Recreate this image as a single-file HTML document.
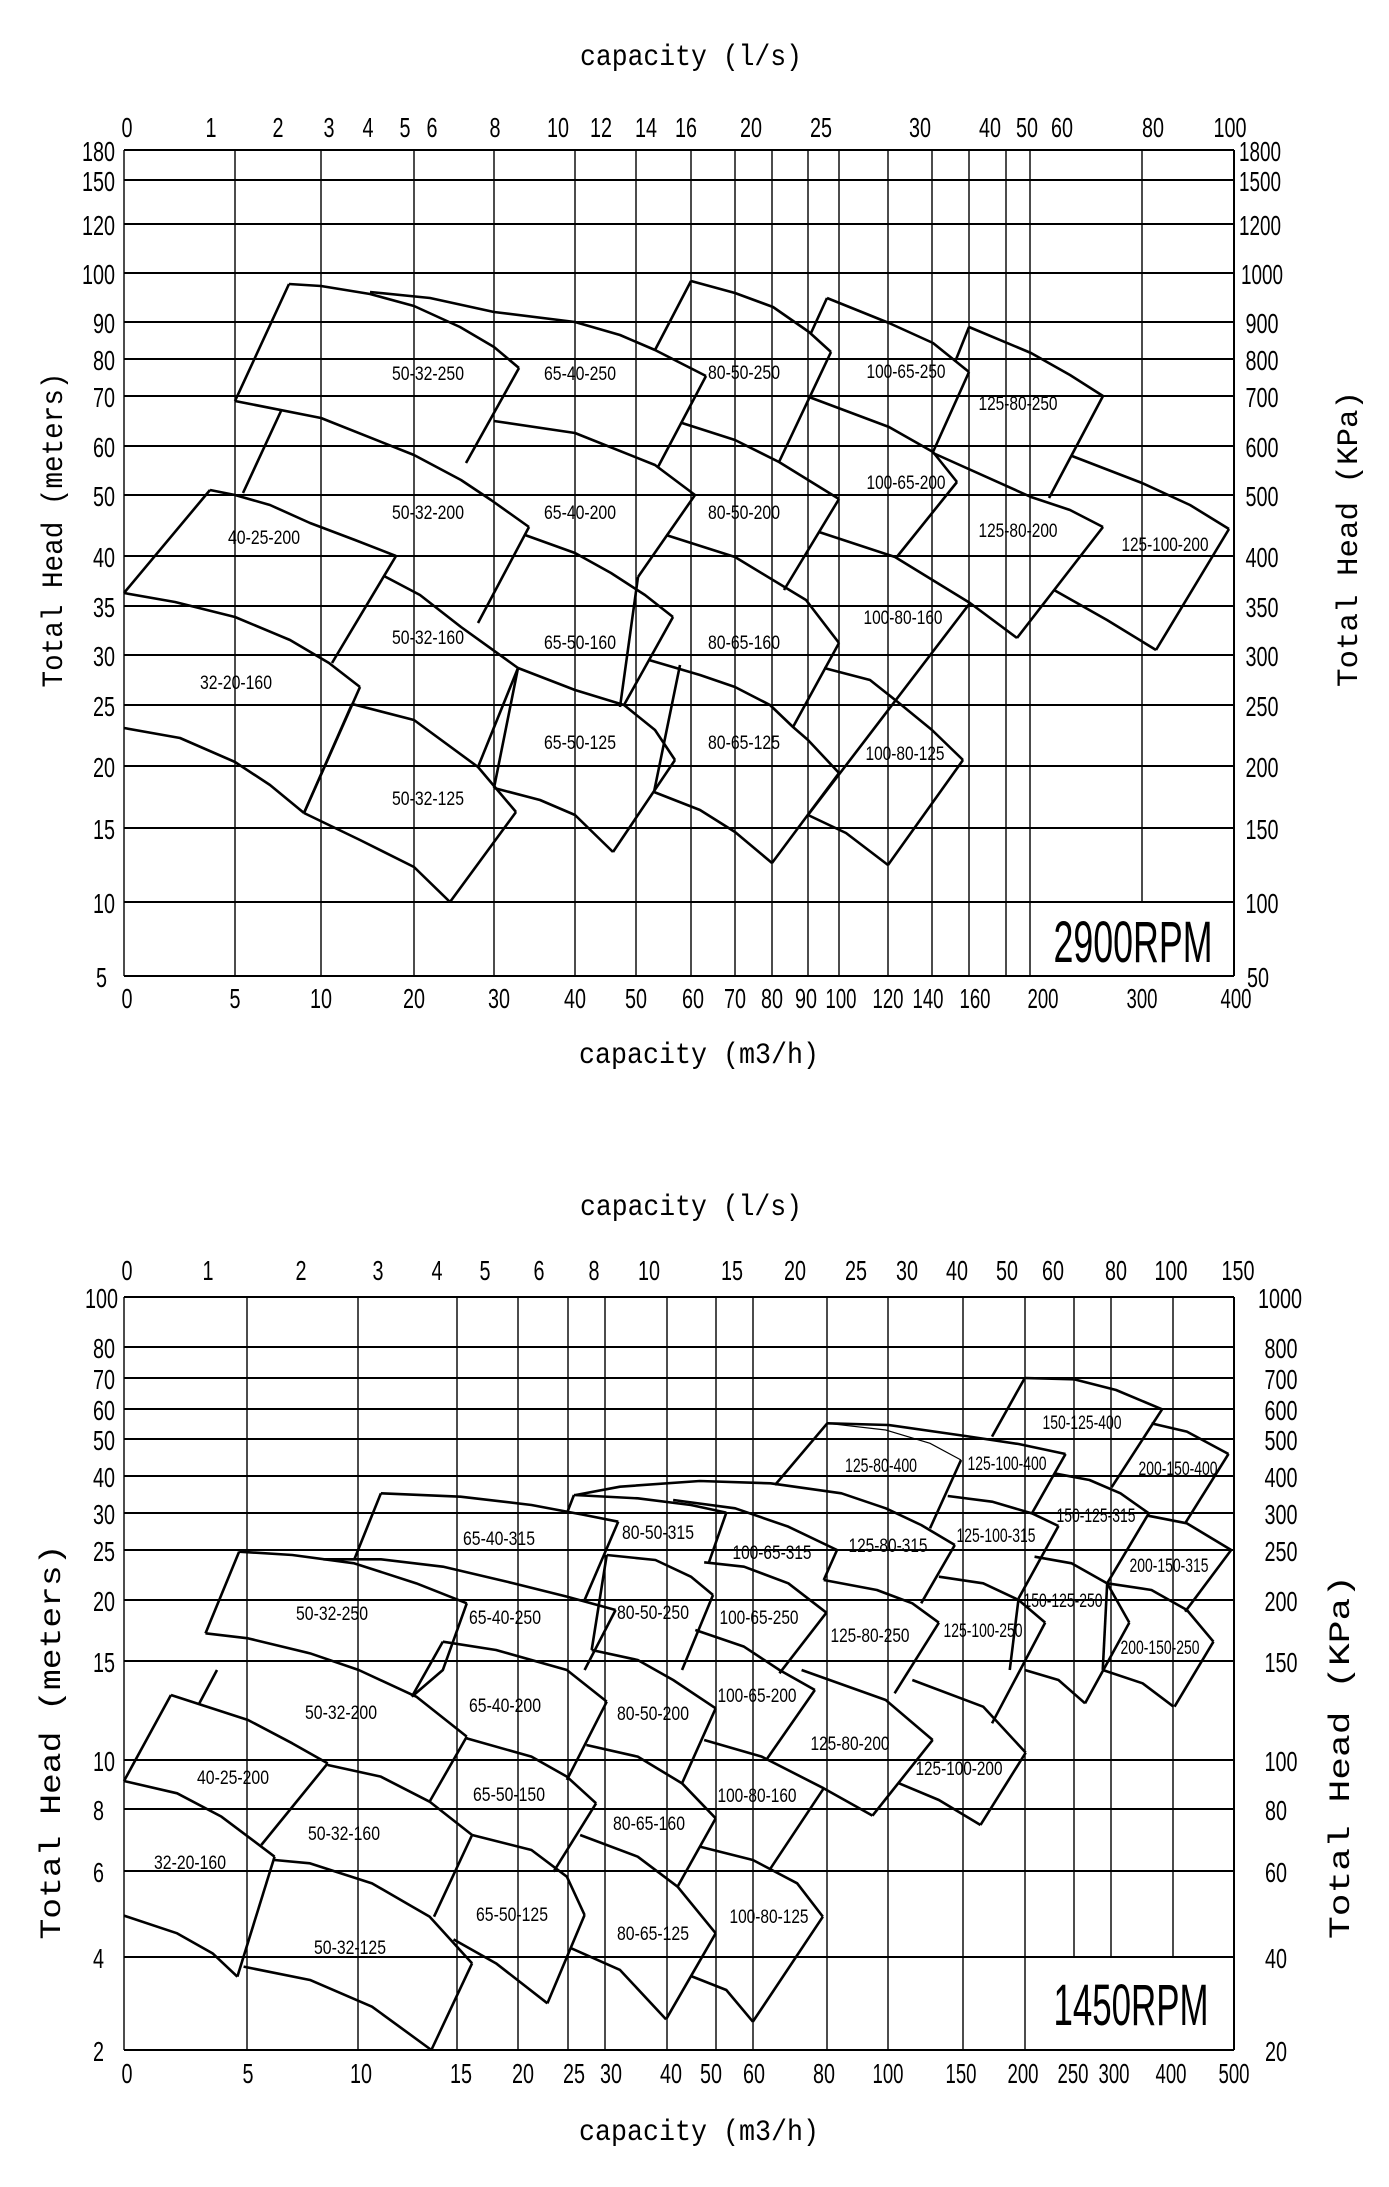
<!DOCTYPE html>
<html><head><meta charset="utf-8"><style>
html,body{margin:0;padding:0;background:#fff;}
svg{display:block;}
text{font-family:"Liberation Sans",sans-serif;fill:#000;}
.tk{font-size:28px;}
.lb{font-size:19px;}
.ti{font-family:"Liberation Mono",monospace;font-size:30px;}
.g{stroke:#000;fill:none;}
.c{stroke:#000;fill:none;stroke-width:2.6;stroke-linejoin:round;vector-effect:non-scaling-stroke;}
.th{stroke:#000;fill:none;stroke-width:1.2;vector-effect:non-scaling-stroke;}
</style></head><body>
<svg width="1389" height="2187" viewBox="0 0 1389 2187" xmlns="http://www.w3.org/2000/svg">
<rect width="1389" height="2187" fill="#fff"/>

<!-- ================= TOP CHART ================= -->
<g class="g" stroke-width="2">
<line x1="124" y1="150" x2="1234" y2="150"/><line x1="124" y1="180" x2="1234" y2="180"/><line x1="124" y1="224" x2="1234" y2="224"/><line x1="124" y1="273" x2="1234" y2="273"/><line x1="124" y1="322" x2="1234" y2="322"/><line x1="124" y1="359" x2="1234" y2="359"/><line x1="124" y1="396" x2="1234" y2="396"/><line x1="124" y1="446" x2="1234" y2="446"/><line x1="124" y1="495" x2="1234" y2="495"/><line x1="124" y1="556" x2="1234" y2="556"/><line x1="124" y1="606" x2="1234" y2="606"/><line x1="124" y1="655" x2="1234" y2="655"/><line x1="124" y1="705" x2="1234" y2="705"/><line x1="124" y1="766" x2="1234" y2="766"/><line x1="124" y1="828" x2="1234" y2="828"/><line x1="124" y1="902" x2="1234" y2="902"/><line x1="124" y1="976" x2="1234" y2="976"/>
</g>
<g class="g" stroke-width="1.4">
<line x1="124" y1="150" x2="124" y2="976"/><line x1="235" y1="150" x2="235" y2="976"/><line x1="321" y1="150" x2="321" y2="976"/><line x1="414" y1="150" x2="414" y2="976"/><line x1="494" y1="150" x2="494" y2="976"/><line x1="575" y1="150" x2="575" y2="976"/><line x1="636" y1="150" x2="636" y2="976"/><line x1="691" y1="150" x2="691" y2="976"/><line x1="735" y1="150" x2="735" y2="976"/><line x1="772" y1="150" x2="772" y2="976"/><line x1="808" y1="150" x2="808" y2="976"/><line x1="839" y1="150" x2="839" y2="976"/><line x1="888" y1="150" x2="888" y2="976"/><line x1="932" y1="150" x2="932" y2="976"/><line x1="969" y1="150" x2="969" y2="976"/><line x1="1006" y1="150" x2="1006" y2="976"/><line x1="1030" y1="150" x2="1030" y2="976"/><line x1="1142" y1="150" x2="1142" y2="902"/><line x1="1234" y1="150" x2="1234" y2="976" stroke-width="2"/>
</g>
<g>
<polyline class="c" points="235,401 289,284"/>
<polyline class="c" points="289,284 321,286 370,294 414,306 460,327 494,347 519,368"/>
<polyline class="c" points="519,368 466,463"/>
<polyline class="c" points="370,292 430,298 494,312 575,322 620,335 655,350 706,376"/>
<polyline class="c" points="706,376 658,467"/>
<polyline class="c" points="235,401 321,418 414,455 461,480 491,500 529,527"/>
<polyline class="c" points="281,411 243,493"/>
<polyline class="c" points="529,527 478,623"/>
<polyline class="c" points="494,421 575,433 655,465 695,495"/>
<polyline class="c" points="695,495 638,577"/>
<polyline class="c" points="525,535 575,553 611,573 645,595 673,617"/>
<polyline class="c" points="673,617 624,705"/>
<polyline class="c" points="518,668 575,690 624,705 655,730 675,760"/>
<polyline class="c" points="518,668 494,788"/>
<polyline class="c" points="675,760 613,852"/>
<polyline class="c" points="494,788 540,800 575,815 613,852"/>
<polyline class="c" points="304,813 352,704"/>
<polyline class="c" points="352,704 414,720 478,767 516,812"/>
<polyline class="c" points="516,812 450,902"/>
<polyline class="c" points="304,813 360,840 414,867 450,902"/>
<polyline class="c" points="124,593 175,602 235,617 290,640 329,663 360,687"/>
<polyline class="c" points="360,687 304,813"/>
<polyline class="c" points="124,728 180,738 235,762 270,785 304,813"/>
<polyline class="c" points="124,593 210,490"/>
<polyline class="c" points="210,490 235,495 270,505 310,523 355,540 396,556"/>
<polyline class="c" points="396,556 332,663"/>
<polyline class="c" points="384,576 420,595 461,627 518,668"/>
<polyline class="c" points="518,668 478,767"/>
<polyline class="c" points="655,350 691,281"/>
<polyline class="c" points="691,281 735,293 773,307 809,332 831,352"/>
<polyline class="c" points="831,352 779,462"/>
<polyline class="c" points="682,423 735,440 779,462 839,499"/>
<polyline class="c" points="839,499 784,590"/>
<polyline class="c" points="666,535 735,557 806,600 839,643"/>
<polyline class="c" points="839,643 793,727"/>
<polyline class="c" points="638,577 620,707"/>
<polyline class="c" points="649,660 700,675 735,687 770,705 793,727 808,740 839,773"/>
<polyline class="c" points="839,773 772,863"/>
<polyline class="c" points="654,792 700,810 735,832 772,863"/>
<polyline class="c" points="654,792 680,665"/>
<polyline class="c" points="811,333 827,298"/>
<polyline class="c" points="827,298 889,323 933,343 969,372"/>
<polyline class="c" points="969,372 933,452"/>
<polyline class="c" points="809,397 889,427 933,452 957,482"/>
<polyline class="c" points="957,482 896,558"/>
<polyline class="c" points="819,532 895,557 970,603 1017,638"/>
<polyline class="c" points="970,603 808,815"/>
<polyline class="c" points="824,668 870,680 899,703 932,730 963,760"/>
<polyline class="c" points="963,760 888,865"/>
<polyline class="c" points="808,815 846,833 888,865"/>
<polyline class="c" points="955,362 969,327"/>
<polyline class="c" points="969,327 1031,353 1070,375 1103,396"/>
<polyline class="c" points="1103,396 1049,498"/>
<polyline class="c" points="933,453 1031,497 1070,510 1103,527"/>
<polyline class="c" points="1103,527 1017,638"/>
<polyline class="c" points="1072,456 1142,483 1190,505 1229,529"/>
<polyline class="c" points="1229,529 1156,650"/>
<polyline class="c" points="1054,590 1107,620 1156,650"/>
</g>
<!-- top chart labels -->
<g class="lb" text-anchor="middle">
<text x="428" y="380" textLength="72" lengthAdjust="spacingAndGlyphs">50-32-250</text>
<text x="580" y="380" textLength="72" lengthAdjust="spacingAndGlyphs">65-40-250</text>
<text x="744" y="379" textLength="72" lengthAdjust="spacingAndGlyphs">80-50-250</text>
<text x="906" y="378" textLength="79" lengthAdjust="spacingAndGlyphs">100-65-250</text>
<text x="1018" y="410" textLength="79" lengthAdjust="spacingAndGlyphs">125-80-250</text>
<text x="906" y="489" textLength="79" lengthAdjust="spacingAndGlyphs">100-65-200</text>
<text x="744" y="519" textLength="72" lengthAdjust="spacingAndGlyphs">80-50-200</text>
<text x="1018" y="537" textLength="79" lengthAdjust="spacingAndGlyphs">125-80-200</text>
<text x="1165" y="551" textLength="87" lengthAdjust="spacingAndGlyphs">125-100-200</text>
<text x="428" y="519" textLength="72" lengthAdjust="spacingAndGlyphs">50-32-200</text>
<text x="580" y="519" textLength="72" lengthAdjust="spacingAndGlyphs">65-40-200</text>
<text x="264" y="544" textLength="72" lengthAdjust="spacingAndGlyphs">40-25-200</text>
<text x="903" y="624" textLength="79" lengthAdjust="spacingAndGlyphs">100-80-160</text>
<text x="428" y="644" textLength="72" lengthAdjust="spacingAndGlyphs">50-32-160</text>
<text x="580" y="649" textLength="72" lengthAdjust="spacingAndGlyphs">65-50-160</text>
<text x="744" y="649" textLength="72" lengthAdjust="spacingAndGlyphs">80-65-160</text>
<text x="236" y="689" textLength="72" lengthAdjust="spacingAndGlyphs">32-20-160</text>
<text x="580" y="749" textLength="72" lengthAdjust="spacingAndGlyphs">65-50-125</text>
<text x="744" y="749" textLength="72" lengthAdjust="spacingAndGlyphs">80-65-125</text>
<text x="905" y="760" textLength="79" lengthAdjust="spacingAndGlyphs">100-80-125</text>
<text x="428" y="805" textLength="72" lengthAdjust="spacingAndGlyphs">50-32-125</text>
</g>
<text x="1133" y="962" font-size="58" textLength="159" lengthAdjust="spacingAndGlyphs" text-anchor="middle">2900RPM</text>

<!-- top chart ticks -->
<g class="tk" text-anchor="middle">
<text x="127" y="137" textLength="11" lengthAdjust="spacingAndGlyphs">0</text><text x="211" y="137" textLength="11" lengthAdjust="spacingAndGlyphs">1</text><text x="278" y="137" textLength="11" lengthAdjust="spacingAndGlyphs">2</text><text x="329" y="137" textLength="11" lengthAdjust="spacingAndGlyphs">3</text><text x="368" y="137" textLength="11" lengthAdjust="spacingAndGlyphs">4</text><text x="405" y="137" textLength="11" lengthAdjust="spacingAndGlyphs">5</text><text x="432" y="137" textLength="11" lengthAdjust="spacingAndGlyphs">6</text><text x="495" y="137" textLength="11" lengthAdjust="spacingAndGlyphs">8</text><text x="558" y="137" textLength="22" lengthAdjust="spacingAndGlyphs">10</text><text x="601" y="137" textLength="22" lengthAdjust="spacingAndGlyphs">12</text><text x="646" y="137" textLength="22" lengthAdjust="spacingAndGlyphs">14</text><text x="686" y="137" textLength="22" lengthAdjust="spacingAndGlyphs">16</text><text x="751" y="137" textLength="22" lengthAdjust="spacingAndGlyphs">20</text><text x="821" y="137" textLength="22" lengthAdjust="spacingAndGlyphs">25</text><text x="920" y="137" textLength="22" lengthAdjust="spacingAndGlyphs">30</text><text x="990" y="137" textLength="22" lengthAdjust="spacingAndGlyphs">40</text><text x="1027" y="137" textLength="22" lengthAdjust="spacingAndGlyphs">50</text><text x="1062" y="137" textLength="22" lengthAdjust="spacingAndGlyphs">60</text><text x="1153" y="137" textLength="22" lengthAdjust="spacingAndGlyphs">80</text><text x="1230" y="137" textLength="33" lengthAdjust="spacingAndGlyphs">100</text>
<text x="127" y="1008" textLength="11" lengthAdjust="spacingAndGlyphs">0</text><text x="235" y="1008" textLength="11" lengthAdjust="spacingAndGlyphs">5</text><text x="321" y="1008" textLength="22" lengthAdjust="spacingAndGlyphs">10</text><text x="414" y="1008" textLength="22" lengthAdjust="spacingAndGlyphs">20</text><text x="499" y="1008" textLength="22" lengthAdjust="spacingAndGlyphs">30</text><text x="575" y="1008" textLength="22" lengthAdjust="spacingAndGlyphs">40</text><text x="636" y="1008" textLength="22" lengthAdjust="spacingAndGlyphs">50</text><text x="693" y="1008" textLength="22" lengthAdjust="spacingAndGlyphs">60</text><text x="735" y="1008" textLength="22" lengthAdjust="spacingAndGlyphs">70</text><text x="772" y="1008" textLength="22" lengthAdjust="spacingAndGlyphs">80</text><text x="806" y="1008" textLength="22" lengthAdjust="spacingAndGlyphs">90</text><text x="841" y="1008" textLength="31" lengthAdjust="spacingAndGlyphs">100</text><text x="888" y="1008" textLength="31" lengthAdjust="spacingAndGlyphs">120</text><text x="928" y="1008" textLength="31" lengthAdjust="spacingAndGlyphs">140</text><text x="975" y="1008" textLength="31" lengthAdjust="spacingAndGlyphs">160</text><text x="1043" y="1008" textLength="31" lengthAdjust="spacingAndGlyphs">200</text><text x="1142" y="1008" textLength="31" lengthAdjust="spacingAndGlyphs">300</text><text x="1236" y="1008" textLength="31" lengthAdjust="spacingAndGlyphs">400</text>
</g>
<g class="tk" text-anchor="end">
<text x="115" y="161" textLength="33" lengthAdjust="spacingAndGlyphs">180</text><text x="115" y="191" textLength="33" lengthAdjust="spacingAndGlyphs">150</text><text x="115" y="235" textLength="33" lengthAdjust="spacingAndGlyphs">120</text><text x="115" y="284" textLength="33" lengthAdjust="spacingAndGlyphs">100</text><text x="115" y="333" textLength="22" lengthAdjust="spacingAndGlyphs">90</text><text x="115" y="370" textLength="22" lengthAdjust="spacingAndGlyphs">80</text><text x="115" y="407" textLength="22" lengthAdjust="spacingAndGlyphs">70</text><text x="115" y="457" textLength="22" lengthAdjust="spacingAndGlyphs">60</text><text x="115" y="506" textLength="22" lengthAdjust="spacingAndGlyphs">50</text><text x="115" y="567" textLength="22" lengthAdjust="spacingAndGlyphs">40</text><text x="115" y="617" textLength="22" lengthAdjust="spacingAndGlyphs">35</text><text x="115" y="666" textLength="22" lengthAdjust="spacingAndGlyphs">30</text><text x="115" y="716" textLength="22" lengthAdjust="spacingAndGlyphs">25</text><text x="115" y="777" textLength="22" lengthAdjust="spacingAndGlyphs">20</text><text x="115" y="839" textLength="22" lengthAdjust="spacingAndGlyphs">15</text><text x="115" y="913" textLength="22" lengthAdjust="spacingAndGlyphs">10</text><text x="107" y="987" textLength="11" lengthAdjust="spacingAndGlyphs">5</text>
</g>
<g class="tk" text-anchor="middle">
<text x="1260" y="161" textLength="42" lengthAdjust="spacingAndGlyphs">1800</text><text x="1260" y="191" textLength="42" lengthAdjust="spacingAndGlyphs">1500</text><text x="1260" y="235" textLength="42" lengthAdjust="spacingAndGlyphs">1200</text><text x="1262" y="284" textLength="42" lengthAdjust="spacingAndGlyphs">1000</text><text x="1262" y="333" textLength="33" lengthAdjust="spacingAndGlyphs">900</text><text x="1262" y="370" textLength="33" lengthAdjust="spacingAndGlyphs">800</text><text x="1262" y="407" textLength="33" lengthAdjust="spacingAndGlyphs">700</text><text x="1262" y="457" textLength="33" lengthAdjust="spacingAndGlyphs">600</text><text x="1262" y="506" textLength="33" lengthAdjust="spacingAndGlyphs">500</text><text x="1262" y="567" textLength="33" lengthAdjust="spacingAndGlyphs">400</text><text x="1262" y="617" textLength="33" lengthAdjust="spacingAndGlyphs">350</text><text x="1262" y="666" textLength="33" lengthAdjust="spacingAndGlyphs">300</text><text x="1262" y="716" textLength="33" lengthAdjust="spacingAndGlyphs">250</text><text x="1262" y="777" textLength="33" lengthAdjust="spacingAndGlyphs">200</text><text x="1262" y="839" textLength="33" lengthAdjust="spacingAndGlyphs">150</text><text x="1262" y="913" textLength="33" lengthAdjust="spacingAndGlyphs">100</text><text x="1258" y="987" textLength="22" lengthAdjust="spacingAndGlyphs">50</text>
</g>
<text class="ti" x="691" y="65" text-anchor="middle" textLength="222" lengthAdjust="spacingAndGlyphs">capacity (l/s)</text>
<text class="ti" x="699" y="1063" text-anchor="middle" textLength="240" lengthAdjust="spacingAndGlyphs">capacity (m3/h)</text>
<text class="ti" font-size="38" transform="translate(62,530) rotate(-90)" text-anchor="middle" textLength="315" lengthAdjust="spacingAndGlyphs">Total Head (meters)</text>
<text class="ti" font-size="38" transform="translate(1357,539) rotate(-90)" text-anchor="middle" textLength="296" lengthAdjust="spacingAndGlyphs">Total Head (KPa)</text>

<!-- ================= BOTTOM CHART ================= -->
<g class="g" stroke-width="2">
<line x1="124" y1="1297" x2="1234" y2="1297"/><line x1="124" y1="1347" x2="1234" y2="1347"/><line x1="124" y1="1378" x2="1234" y2="1378"/><line x1="124" y1="1409" x2="1234" y2="1409"/><line x1="124" y1="1439" x2="1234" y2="1439"/><line x1="124" y1="1476" x2="1234" y2="1476"/><line x1="124" y1="1513" x2="1234" y2="1513"/><line x1="124" y1="1550" x2="1234" y2="1550"/><line x1="124" y1="1600" x2="1234" y2="1600"/><line x1="124" y1="1661" x2="1234" y2="1661"/><line x1="124" y1="1760" x2="1234" y2="1760"/><line x1="124" y1="1809" x2="1234" y2="1809"/><line x1="124" y1="1871" x2="1234" y2="1871"/><line x1="124" y1="1957" x2="1234" y2="1957"/><line x1="124" y1="2050" x2="1234" y2="2050"/>
</g>
<g class="g" stroke-width="1.4">
<line x1="124" y1="1297" x2="124" y2="2050"/><line x1="247" y1="1297" x2="247" y2="2050"/><line x1="358" y1="1297" x2="358" y2="2050"/><line x1="457" y1="1297" x2="457" y2="2050"/><line x1="518" y1="1297" x2="518" y2="2050"/><line x1="568" y1="1297" x2="568" y2="2050"/><line x1="605" y1="1297" x2="605" y2="2050"/><line x1="667" y1="1297" x2="667" y2="2050"/><line x1="716" y1="1297" x2="716" y2="2050"/><line x1="753" y1="1297" x2="753" y2="2050"/><line x1="827" y1="1297" x2="827" y2="2050"/><line x1="888" y1="1297" x2="888" y2="2050"/><line x1="963" y1="1297" x2="963" y2="2050"/><line x1="1025" y1="1297" x2="1025" y2="2050"/><line x1="1074" y1="1297" x2="1074" y2="1957"/><line x1="1111" y1="1297" x2="1111" y2="1957"/><line x1="1173" y1="1297" x2="1173" y2="1957"/><line x1="1234" y1="1297" x2="1234" y2="2050" stroke-width="2"/>
</g>
<g transform="matrix(0.88574,0,0,0.33333,0,1150)">
<polyline class="c" points="1120,860 1157,684"/>
<polyline class="c" points="1157,684 1213,688 1260,720 1312,778"/>
<polyline class="c" points="1312,778 1255,1012"/>
<polyline class="c" points="1300,820 1340,845 1387,912"/>
<polyline class="c" points="1387,912 1338,1120"/>
<polyline class="c" points="875,1005 934,820"/>
<polyline class="c" points="934,820 1003,825 1090,858 1150,882 1203,912"/>
<polyline class="th" points="934,820 1000,840 1050,880 1085,930"/>
<polyline class="c" points="1085,930 1050,1135"/>
<polyline class="c" points="1203,912 1165,1090"/>
<polyline class="c" points="1190,970 1230,990 1265,1030 1297,1090"/>
<polyline class="c" points="1297,1090 1250,1300"/>
<polyline class="c" points="1070,1038 1120,1055 1165,1090 1195,1128"/>
<polyline class="c" points="1195,1128 1150,1345"/>
<polyline class="c" points="1296,1097 1340,1120 1390,1200"/>
<polyline class="c" points="1390,1200 1338,1385"/>
<polyline class="c" points="650,1035 700,1010 790,993 870,1000 950,1030 1000,1075 1040,1125 1078,1185"/>
<polyline class="c" points="1078,1185 1040,1360"/>
<polyline class="c" points="648,1035 720,1045 780,1065 820,1088"/>
<polyline class="c" points="820,1088 800,1240"/>
<polyline class="c" points="760,1050 830,1075 890,1130 945,1200"/>
<polyline class="c" points="945,1200 930,1290"/>
<polyline class="c" points="648,1035 640,1090"/>
<polyline class="c" points="400,1228 430,1030"/>
<polyline class="c" points="430,1030 520,1040 600,1065 660,1095 698,1115"/>
<polyline class="c" points="698,1115 660,1350"/>
<polyline class="c" points="232,1450 270,1205"/>
<polyline class="c" points="270,1205 330,1215 400,1240 470,1300 527,1360"/>
<polyline class="c" points="527,1360 500,1560 465,1640"/>
<polyline class="c" points="365,1228 430,1228 500,1250 580,1300 640,1340 695,1380"/>
<polyline class="c" points="695,1380 660,1560"/>
<polyline class="c" points="685,1215 740,1230 780,1280 805,1335"/>
<polyline class="c" points="805,1335 770,1560"/>
<polyline class="c" points="685,1215 668,1500"/>
<polyline class="c" points="795,1237 840,1250 890,1300 933,1388"/>
<polyline class="c" points="933,1388 880,1570"/>
<polyline class="c" points="930,1290 990,1320 1030,1360 1060,1418"/>
<polyline class="c" points="1060,1418 1010,1630"/>
<polyline class="c" points="1060,1280 1110,1300 1150,1350 1180,1418"/>
<polyline class="c" points="1180,1418 1120,1720"/>
<polyline class="c" points="1168,1220 1210,1240 1250,1300 1275,1418"/>
<polyline class="c" points="1275,1418 1225,1660"/>
<polyline class="c" points="1250,1300 1300,1320 1340,1380 1370,1475"/>
<polyline class="c" points="1370,1475 1326,1670"/>
<polyline class="c" points="1157,1560 1195,1590 1225,1660"/>
<polyline class="c" points="1245,1560 1290,1600 1325,1670"/>
<polyline class="c" points="1150,1345 1140,1560"/>
<polyline class="c" points="1250,1300 1245,1560"/>
<polyline class="c" points="232,1450 280,1465 350,1510 405,1560 470,1640 527,1760"/>
<polyline class="c" points="527,1760 485,1955"/>
<polyline class="c" points="245,1560 225,1660"/>
<polyline class="c" points="140,1893 193,1635"/>
<polyline class="c" points="193,1635 280,1710 330,1780 370,1840"/>
<polyline class="c" points="370,1840 295,2085"/>
<polyline class="c" points="140,1893 200,1930 250,2000 310,2120"/>
<polyline class="c" points="310,2120 268,2480"/>
<polyline class="c" points="140,2297 200,2350 240,2410 268,2480"/>
<polyline class="c" points="370,1845 430,1880 485,1955 533,2055"/>
<polyline class="c" points="533,2055 490,2300"/>
<polyline class="c" points="310,2130 350,2140 420,2200 485,2300 533,2440"/>
<polyline class="c" points="533,2440 487,2700"/>
<polyline class="c" points="275,2450 350,2490 420,2570 487,2700"/>
<polyline class="c" points="500,1475 560,1500 640,1560 685,1655"/>
<polyline class="c" points="685,1655 640,1890"/>
<polyline class="c" points="500,1475 465,1640"/>
<polyline class="c" points="527,1765 600,1820 640,1880 673,1960"/>
<polyline class="c" points="673,1960 625,2165"/>
<polyline class="c" points="533,2055 600,2100 640,2180 660,2295"/>
<polyline class="c" points="660,2295 618,2560"/>
<polyline class="c" points="512,2368 560,2440 618,2560"/>
<polyline class="c" points="668,1500 720,1530 760,1590 808,1675"/>
<polyline class="c" points="808,1675 770,1900"/>
<polyline class="c" points="662,1785 720,1820 770,1900 808,2005"/>
<polyline class="c" points="808,2005 765,2210"/>
<polyline class="c" points="655,2055 720,2120 765,2210 808,2350"/>
<polyline class="c" points="808,2350 752,2608"/>
<polyline class="c" points="645,2395 700,2460 752,2608"/>
<polyline class="c" points="785,1440 840,1490 880,1560 920,1620"/>
<polyline class="c" points="920,1620 865,1830"/>
<polyline class="c" points="795,1770 860,1820 930,1915 985,1997"/>
<polyline class="c" points="930,1915 870,2155"/>
<polyline class="c" points="790,2090 850,2130 900,2200 929,2300"/>
<polyline class="c" points="929,2300 850,2615"/>
<polyline class="c" points="780,2478 820,2520 850,2615"/>
<polyline class="c" points="905,1560 1000,1650 1053,1770"/>
<polyline class="c" points="1053,1770 985,1997"/>
<polyline class="c" points="1030,1590 1110,1670 1158,1808"/>
<polyline class="c" points="1158,1808 1107,2025"/>
<polyline class="c" points="1015,1900 1060,1950 1107,2025"/>
</g>
<g class="lb" text-anchor="middle">
<text x="1082" y="1429" textLength="79" lengthAdjust="spacingAndGlyphs">150-125-400</text>
<text x="881" y="1472" textLength="72" lengthAdjust="spacingAndGlyphs">125-80-400</text>
<text x="1007" y="1470" textLength="79" lengthAdjust="spacingAndGlyphs">125-100-400</text>
<text x="1178" y="1475" textLength="79" lengthAdjust="spacingAndGlyphs">200-150-400</text>
<text x="499" y="1545" textLength="72" lengthAdjust="spacingAndGlyphs">65-40-315</text>
<text x="658" y="1539" textLength="72" lengthAdjust="spacingAndGlyphs">80-50-315</text>
<text x="772" y="1559" textLength="79" lengthAdjust="spacingAndGlyphs">100-65-315</text>
<text x="888" y="1552" textLength="79" lengthAdjust="spacingAndGlyphs">125-80-315</text>
<text x="996" y="1542" textLength="79" lengthAdjust="spacingAndGlyphs">125-100-315</text>
<text x="1096" y="1522" textLength="79" lengthAdjust="spacingAndGlyphs">150-125-315</text>
<text x="1169" y="1572" textLength="79" lengthAdjust="spacingAndGlyphs">200-150-315</text>
<text x="332" y="1620" textLength="72" lengthAdjust="spacingAndGlyphs">50-32-250</text>
<text x="505" y="1624" textLength="72" lengthAdjust="spacingAndGlyphs">65-40-250</text>
<text x="653" y="1619" textLength="72" lengthAdjust="spacingAndGlyphs">80-50-250</text>
<text x="759" y="1624" textLength="79" lengthAdjust="spacingAndGlyphs">100-65-250</text>
<text x="870" y="1642" textLength="79" lengthAdjust="spacingAndGlyphs">125-80-250</text>
<text x="983" y="1637" textLength="79" lengthAdjust="spacingAndGlyphs">125-100-250</text>
<text x="1063" y="1607" textLength="79" lengthAdjust="spacingAndGlyphs">150-125-250</text>
<text x="1160" y="1654" textLength="79" lengthAdjust="spacingAndGlyphs">200-150-250</text>
<text x="341" y="1719" textLength="72" lengthAdjust="spacingAndGlyphs">50-32-200</text>
<text x="505" y="1712" textLength="72" lengthAdjust="spacingAndGlyphs">65-40-200</text>
<text x="653" y="1720" textLength="72" lengthAdjust="spacingAndGlyphs">80-50-200</text>
<text x="757" y="1702" textLength="79" lengthAdjust="spacingAndGlyphs">100-65-200</text>
<text x="850" y="1750" textLength="79" lengthAdjust="spacingAndGlyphs">125-80-200</text>
<text x="959" y="1775" textLength="87" lengthAdjust="spacingAndGlyphs">125-100-200</text>
<text x="233" y="1784" textLength="72" lengthAdjust="spacingAndGlyphs">40-25-200</text>
<text x="509" y="1801" textLength="72" lengthAdjust="spacingAndGlyphs">65-50-150</text>
<text x="757" y="1802" textLength="79" lengthAdjust="spacingAndGlyphs">100-80-160</text>
<text x="649" y="1830" textLength="72" lengthAdjust="spacingAndGlyphs">80-65-160</text>
<text x="344" y="1840" textLength="72" lengthAdjust="spacingAndGlyphs">50-32-160</text>
<text x="190" y="1869" textLength="72" lengthAdjust="spacingAndGlyphs">32-20-160</text>
<text x="512" y="1921" textLength="72" lengthAdjust="spacingAndGlyphs">65-50-125</text>
<text x="769" y="1923" textLength="79" lengthAdjust="spacingAndGlyphs">100-80-125</text>
<text x="653" y="1940" textLength="72" lengthAdjust="spacingAndGlyphs">80-65-125</text>
<text x="350" y="1954" textLength="72" lengthAdjust="spacingAndGlyphs">50-32-125</text>
</g>
<text x="1131" y="2025" font-size="58" textLength="155" lengthAdjust="spacingAndGlyphs" text-anchor="middle">1450RPM</text>

<g class="tk" text-anchor="middle">
<text x="127" y="1280" textLength="11" lengthAdjust="spacingAndGlyphs">0</text><text x="208" y="1280" textLength="11" lengthAdjust="spacingAndGlyphs">1</text><text x="301" y="1280" textLength="11" lengthAdjust="spacingAndGlyphs">2</text><text x="378" y="1280" textLength="11" lengthAdjust="spacingAndGlyphs">3</text><text x="437" y="1280" textLength="11" lengthAdjust="spacingAndGlyphs">4</text><text x="485" y="1280" textLength="11" lengthAdjust="spacingAndGlyphs">5</text><text x="539" y="1280" textLength="11" lengthAdjust="spacingAndGlyphs">6</text><text x="594" y="1280" textLength="11" lengthAdjust="spacingAndGlyphs">8</text><text x="649" y="1280" textLength="22" lengthAdjust="spacingAndGlyphs">10</text><text x="732" y="1280" textLength="22" lengthAdjust="spacingAndGlyphs">15</text><text x="795" y="1280" textLength="22" lengthAdjust="spacingAndGlyphs">20</text><text x="856" y="1280" textLength="22" lengthAdjust="spacingAndGlyphs">25</text><text x="907" y="1280" textLength="22" lengthAdjust="spacingAndGlyphs">30</text><text x="957" y="1280" textLength="22" lengthAdjust="spacingAndGlyphs">40</text><text x="1007" y="1280" textLength="22" lengthAdjust="spacingAndGlyphs">50</text><text x="1053" y="1280" textLength="22" lengthAdjust="spacingAndGlyphs">60</text><text x="1116" y="1280" textLength="22" lengthAdjust="spacingAndGlyphs">80</text><text x="1171" y="1280" textLength="33" lengthAdjust="spacingAndGlyphs">100</text><text x="1238" y="1280" textLength="33" lengthAdjust="spacingAndGlyphs">150</text>
<text x="127" y="2083" textLength="11" lengthAdjust="spacingAndGlyphs">0</text><text x="248" y="2083" textLength="11" lengthAdjust="spacingAndGlyphs">5</text><text x="361" y="2083" textLength="22" lengthAdjust="spacingAndGlyphs">10</text><text x="461" y="2083" textLength="22" lengthAdjust="spacingAndGlyphs">15</text><text x="523" y="2083" textLength="22" lengthAdjust="spacingAndGlyphs">20</text><text x="574" y="2083" textLength="22" lengthAdjust="spacingAndGlyphs">25</text><text x="611" y="2083" textLength="22" lengthAdjust="spacingAndGlyphs">30</text><text x="671" y="2083" textLength="22" lengthAdjust="spacingAndGlyphs">40</text><text x="711" y="2083" textLength="22" lengthAdjust="spacingAndGlyphs">50</text><text x="754" y="2083" textLength="22" lengthAdjust="spacingAndGlyphs">60</text><text x="824" y="2083" textLength="22" lengthAdjust="spacingAndGlyphs">80</text><text x="888" y="2083" textLength="31" lengthAdjust="spacingAndGlyphs">100</text><text x="961" y="2083" textLength="31" lengthAdjust="spacingAndGlyphs">150</text><text x="1023" y="2083" textLength="31" lengthAdjust="spacingAndGlyphs">200</text><text x="1073" y="2083" textLength="31" lengthAdjust="spacingAndGlyphs">250</text><text x="1114" y="2083" textLength="31" lengthAdjust="spacingAndGlyphs">300</text><text x="1171" y="2083" textLength="31" lengthAdjust="spacingAndGlyphs">400</text><text x="1234" y="2083" textLength="31" lengthAdjust="spacingAndGlyphs">500</text>
</g>
<g class="tk" text-anchor="end">
<text x="118" y="1308" textLength="33" lengthAdjust="spacingAndGlyphs">100</text><text x="115" y="1358" textLength="22" lengthAdjust="spacingAndGlyphs">80</text><text x="115" y="1389" textLength="22" lengthAdjust="spacingAndGlyphs">70</text><text x="115" y="1420" textLength="22" lengthAdjust="spacingAndGlyphs">60</text><text x="115" y="1450" textLength="22" lengthAdjust="spacingAndGlyphs">50</text><text x="115" y="1487" textLength="22" lengthAdjust="spacingAndGlyphs">40</text><text x="115" y="1524" textLength="22" lengthAdjust="spacingAndGlyphs">30</text><text x="115" y="1561" textLength="22" lengthAdjust="spacingAndGlyphs">25</text><text x="115" y="1611" textLength="22" lengthAdjust="spacingAndGlyphs">20</text><text x="115" y="1672" textLength="22" lengthAdjust="spacingAndGlyphs">15</text><text x="115" y="1771" textLength="22" lengthAdjust="spacingAndGlyphs">10</text><text x="104" y="1820" textLength="11" lengthAdjust="spacingAndGlyphs">8</text><text x="104" y="1882" textLength="11" lengthAdjust="spacingAndGlyphs">6</text><text x="104" y="1968" textLength="11" lengthAdjust="spacingAndGlyphs">4</text><text x="104" y="2061" textLength="11" lengthAdjust="spacingAndGlyphs">2</text>
</g>
<g class="tk" text-anchor="middle">
<text x="1280" y="1308" textLength="44" lengthAdjust="spacingAndGlyphs">1000</text><text x="1281" y="1358" textLength="33" lengthAdjust="spacingAndGlyphs">800</text><text x="1281" y="1389" textLength="33" lengthAdjust="spacingAndGlyphs">700</text><text x="1281" y="1420" textLength="33" lengthAdjust="spacingAndGlyphs">600</text><text x="1281" y="1450" textLength="33" lengthAdjust="spacingAndGlyphs">500</text><text x="1281" y="1487" textLength="33" lengthAdjust="spacingAndGlyphs">400</text><text x="1281" y="1524" textLength="33" lengthAdjust="spacingAndGlyphs">300</text><text x="1281" y="1561" textLength="33" lengthAdjust="spacingAndGlyphs">250</text><text x="1281" y="1611" textLength="33" lengthAdjust="spacingAndGlyphs">200</text><text x="1281" y="1672" textLength="33" lengthAdjust="spacingAndGlyphs">150</text><text x="1281" y="1771" textLength="33" lengthAdjust="spacingAndGlyphs">100</text><text x="1276" y="1820" textLength="22" lengthAdjust="spacingAndGlyphs">80</text><text x="1276" y="1882" textLength="22" lengthAdjust="spacingAndGlyphs">60</text><text x="1276" y="1968" textLength="22" lengthAdjust="spacingAndGlyphs">40</text><text x="1276" y="2061" textLength="22" lengthAdjust="spacingAndGlyphs">20</text>
</g>
<text class="ti" x="691" y="1215" text-anchor="middle" textLength="222" lengthAdjust="spacingAndGlyphs">capacity (l/s)</text>
<text class="ti" x="699" y="2140" text-anchor="middle" textLength="240" lengthAdjust="spacingAndGlyphs">capacity (m3/h)</text>
<text class="ti" font-size="38" transform="translate(60,1742) rotate(-90)" text-anchor="middle" textLength="395" lengthAdjust="spacingAndGlyphs">Total Head (meters)</text>
<text class="ti" font-size="38" transform="translate(1349,1757) rotate(-90)" text-anchor="middle" textLength="364" lengthAdjust="spacingAndGlyphs">Total Head (KPa)</text>
</svg>
</body></html>
